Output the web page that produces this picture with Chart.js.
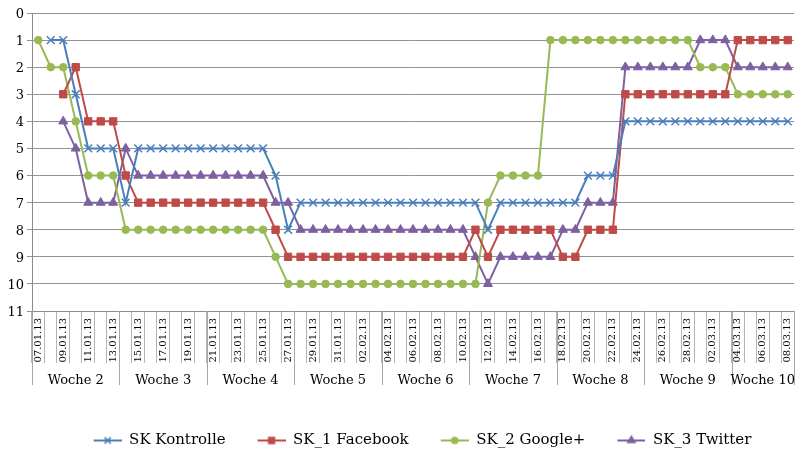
<!DOCTYPE html>
<html>
<head>
<meta charset="utf-8">
<script src="https://cdn.jsdelivr.net/npm/chart.js@4/dist/chart.umd.min.js"></script>
<style>
  html, body { margin: 0; padding: 0; background: #fff; }
</style>
</head>
<body>
<canvas id="myChart" width="801" height="452"></canvas>
<script>
  // categories: one entry per day
  var days = [
    "07.01.13", "08.01.13", "09.01.13", "10.01.13", "11.01.13", "12.01.13", "13.01.13",
    "14.01.13", "15.01.13", "16.01.13", "17.01.13", "18.01.13", "19.01.13", "20.01.13",
    "21.01.13", "22.01.13", "23.01.13", "24.01.13", "25.01.13", "26.01.13", "27.01.13",
    "28.01.13", "29.01.13", "30.01.13", "31.01.13", "01.02.13", "02.02.13", "03.02.13",
    "04.02.13", "05.02.13", "06.02.13", "07.02.13", "08.02.13", "09.02.13", "10.02.13",
    "11.02.13", "12.02.13", "13.02.13", "14.02.13", "15.02.13", "16.02.13", "17.02.13",
    "18.02.13", "19.02.13", "20.02.13", "21.02.13", "22.02.13", "23.02.13", "24.02.13",
    "25.02.13", "26.02.13", "27.02.13", "28.02.13", "01.03.13", "02.03.13", "03.03.13",
    "04.03.13", "05.03.13", "06.03.13", "07.03.13", "08.03.13"
  ];

  var weekLabels = ["Woche 2", "Woche 3", "Woche 4", "Woche 5", "Woche 6", "Woche 7", "Woche 8", "Woche 9", "Woche 10"];
  var weekDays = [7, 7, 7, 7, 7, 7, 7, 7, 5];

  var yTicks = [0, 1, 2, 3, 4, 5, 6, 7, 8, 9, 10, 11];

  var seriesNames = ["SK Kontrolle", "SK_1 Facebook", "SK_2 Google+", "SK_3 Twitter"];

  var kontrolle = [
    null, 1, 1, 3, 5, 5, 5,
    7, 5, 5, 5, 5, 5, 5,
    5, 5, 5, 5, 5, 6, 8,
    7, 7, 7, 7, 7, 7, 7,
    7, 7, 7, 7, 7, 7, 7,
    7, 8, 7, 7, 7, 7, 7,
    7, 7, 6, 6, 6, 4, 4,
    4, 4, 4, 4, 4, 4, 4,
    4, 4, 4, 4, 4
  ];
  var facebook = [
    null, null, 3, 2, 4, 4, 4,
    6, 7, 7, 7, 7, 7, 7,
    7, 7, 7, 7, 7, 8, 9,
    9, 9, 9, 9, 9, 9, 9,
    9, 9, 9, 9, 9, 9, 9,
    8, 9, 8, 8, 8, 8, 8,
    9, 9, 8, 8, 8, 3, 3,
    3, 3, 3, 3, 3, 3, 3,
    1, 1, 1, 1, 1
  ];
  var google = [
    1, 2, 2, 4, 6, 6, 6,
    8, 8, 8, 8, 8, 8, 8,
    8, 8, 8, 8, 8, 9, 10,
    10, 10, 10, 10, 10, 10, 10,
    10, 10, 10, 10, 10, 10, 10,
    10, 7, 6, 6, 6, 6, 1,
    1, 1, 1, 1, 1, 1, 1,
    1, 1, 1, 1, 2, 2, 2,
    3, 3, 3, 3, 3
  ];
  var twitter = [
    null, null, 4, 5, 7, 7, 7,
    5, 6, 6, 6, 6, 6, 6,
    6, 6, 6, 6, 6, 7, 7,
    8, 8, 8, 8, 8, 8, 8,
    8, 8, 8, 8, 8, 8, 8,
    9, 10, 9, 9, 9, 9, 9,
    8, 8, 7, 7, 7, 2, 2,
    2, 2, 2, 2, 1, 1, 1,
    2, 2, 2, 2, 2
  ];

  var lineColors = ["#4A7EBB", "#BE4B48", "#98B954", "#7D60A0"];
  var markers = ["crossRot", "rect", "circle", "triangle"];
  var markerSizes = [5.5, 5.2, 3.8, 5.2];

  Chart.defaults.font.family = "'DejaVu Serif', serif";
  Chart.defaults.color = "#000";

  // legend icon: short line with the marker in the middle, blank space on the left as item gap
  function legendIcon(i) {
    var c = document.createElement("canvas");
    c.width = 50;
    c.height = 14;
    var g = c.getContext("2d");
    g.strokeStyle = lineColors[i];
    g.fillStyle = lineColors[i];
    g.lineWidth = 2;
    g.beginPath();
    g.moveTo(22, 7);
    g.lineTo(50, 7);
    g.stroke();
    g.lineWidth = 1.5;
    Chart.helpers.drawPoint(g, { pointStyle: markers[i], radius: markerSizes[i] * 0.8, rotation: 0, borderWidth: 1.5 }, 36, 7);
    return c;
  }

  // second row of the category axis: weeks
  var weekRow = {
    id: "weekRow",
    afterDraw: function (chart) {
      var sx = chart.scales.x;
      var ctx = chart.ctx;
      var top = sx.top;
      var bottom = sx.top + 74;
      ctx.save();
      ctx.strokeStyle = "#a6a6a6";
      ctx.lineWidth = 1;
      ctx.fillStyle = "#000";
      ctx.font = "13px 'DejaVu Serif'";
      ctx.textAlign = "center";
      ctx.textBaseline = "middle";
      var start = 0;
      for (var w = 0; w <= weekDays.length; w++) {
        var px = Math.round(sx.getPixelForValue(start - 0.5)) + 0.5;
        ctx.beginPath();
        ctx.moveTo(px, top);
        ctx.lineTo(px, bottom);
        ctx.stroke();
        if (w < weekDays.length) {
          var a = sx.getPixelForValue(start - 0.5);
          var b = sx.getPixelForValue(start + weekDays[w] - 0.5);
          ctx.fillText(weekLabels[w], (a + b) / 2, top + 70);
          start += weekDays[w];
        }
      }
      ctx.restore();
    }
  };

  // the legend sits a bit right of centre in the original
  var legendShift = {
    id: "legendShift",
    afterLayout: function (chart) {
      chart.legend.left += 13;
      chart.legend.right += 13;
    }
  };

  var allData = [kontrolle, facebook, google, twitter];

  new Chart("myChart", {
    type: "line",
    data: {
      labels: days,
      datasets: allData.map(function (d, i) {
        return {
          label: seriesNames[i],
          data: d,
          borderColor: lineColors[i],
          backgroundColor: lineColors[i],
          borderWidth: 2,
          pointStyle: markers[i],
          pointRadius: markerSizes[i],
          pointBorderWidth: i === 0 ? 1.5 : 1,
          pointBackgroundColor: lineColors[i],
          pointBorderColor: lineColors[i],
          fill: false,
          tension: 0
        };
      })
    },
    options: {
      responsive: false,
      animation: false,
      layout: { padding: { top: 13, right: 4, bottom: -6, left: 0 } },
      scales: {
        x: {
          type: "category",
          offset: true,
          grid: {
            offset: true,
            drawOnChartArea: false,
            drawTicks: true,
            tickLength: 52,
            color: "#b4b4b4"
          },
          border: { display: true, color: "#8c8c8c" },
          ticks: {
            autoSkip: false,
            minRotation: 90,
            maxRotation: 90,
            padding: -45,
            font: { size: 10 },
            callback: function (val, index) {
              return index % 2 ? "" : this.getLabelForValue(val);
            }
          },
          afterFit: function (scale) { scale.height = 112; }
        },
        y: {
          reverse: true,
          min: yTicks[0],
          max: yTicks[yTicks.length - 1],
          grid: { color: "#929292", tickLength: 5 },
          border: { color: "#8c8c8c" },
          ticks: {
            stepSize: 1,
            padding: 3,
            labelOffset: 1.5,
            font: { size: 13 },
            callback: function (v) { return yTicks.indexOf(v) >= 0 ? v : ""; }
          },
          afterFit: function (scale) { scale.width = 32; }
        }
      },
      plugins: {
        legend: {
          position: "bottom",
          labels: {
            usePointStyle: true,
            pointStyleWidth: 50,
            padding: 10,
            font: { size: 15 },
            generateLabels: function (chart) {
              return chart.data.datasets.map(function (ds, i) {
                return {
                  text: ds.label,
                  pointStyle: legendIcon(i),
                  fillStyle: lineColors[i],
                  strokeStyle: lineColors[i],
                  lineWidth: 0,
                  fontColor: "#000",
                  datasetIndex: i
                };
              });
            }
          }
        },
        tooltip: { enabled: false }
      }
    },
    plugins: [weekRow, legendShift]
  });
</script>
</body>
</html>
